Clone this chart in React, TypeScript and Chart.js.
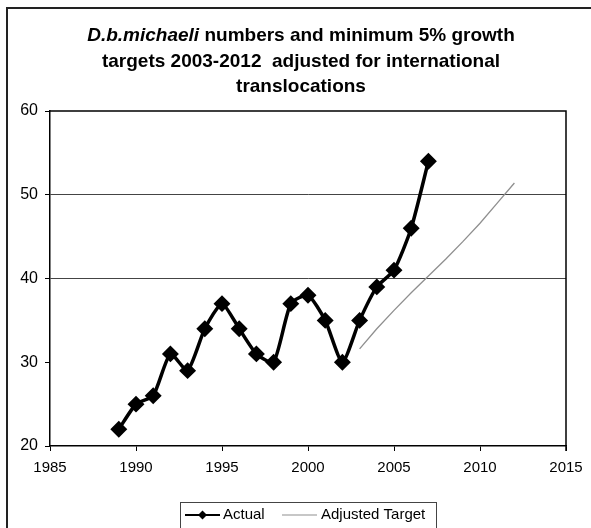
import React, { useEffect, useRef } from 'react';
import { Chart, registerables } from 'chart.js';

Chart.register(...registerables);

const FONT = '"Liberation Sans", Arial, Helvetica, sans-serif';

// ---- data ----
const years = [1989, 1990, 1991, 1992, 1993, 1994, 1995, 1996, 1997, 1998, 1999, 2000, 2001, 2002, 2003, 2004, 2005, 2006, 2007];
const actual = [22, 25, 26, 31, 29, 34, 37, 34, 31, 30, 37, 38, 35, 30, 35, 39, 41, 46, 54];
const targetYears = [2003, 2004, 2005, 2006, 2007, 2008, 2009, 2010, 2011, 2012];
const target = [31.6, 34.0, 36.2, 38.3, 40.3, 42.3, 44.4, 46.6, 49.0, 51.4];
const xTicks = [1985, 1990, 1995, 2000, 2005, 2010, 2015];
const yTicks = [20, 30, 40, 50, 60];
const gridValues = [40, 50];
const seriesNames = ['Actual', 'Adjusted Target'];
const titleItalic = 'D.b.michaeli';
const titleLine1 = ' numbers and minimum 5% growth';
const titleLine2 = 'targets 2003-2012  adjusted for international';
const titleLine3 = 'translocations';

const framePlugin = {
  id: 'frame',
  beforeDraw(chart: any) {
    const ctx = chart.ctx;
    ctx.save();
    ctx.fillStyle = '#fff';
    ctx.fillRect(0, 0, chart.width, chart.height);
    // outer chart border (left + top)
    ctx.lineWidth = 2;
    ctx.strokeStyle = '#222';
    ctx.beginPath();
    ctx.moveTo(7, 528);
    ctx.lineTo(7, 8);
    ctx.lineTo(591, 8);
    ctx.stroke();
    ctx.restore();
  },
  afterDatasetsDraw(chart: any) {
    const { ctx, chartArea } = chart;
    ctx.save();
    ctx.strokeStyle = '#000';
    ctx.lineWidth = 1.5;
    ctx.beginPath();
    ctx.moveTo(chartArea.left, chartArea.top);
    ctx.lineTo(chartArea.right, chartArea.top);
    ctx.lineTo(chartArea.right, chartArea.bottom + 5);
    ctx.stroke();
    ctx.restore();
  },
  afterDraw(chart: any) {
    const ctx = chart.ctx;
    ctx.save();
    ctx.fillStyle = '#000';
    ctx.textBaseline = 'alphabetic';
    const cx = 301;
    const fi = 'italic bold 19px ' + FONT;
    const fb = 'bold 19px ' + FONT;
    ctx.font = fi;
    const w1 = ctx.measureText(titleItalic).width;
    ctx.font = fb;
    const w2 = ctx.measureText(titleLine1).width;
    const x0 = cx - (w1 + w2) / 2;
    ctx.textAlign = 'left';
    ctx.font = fi;
    ctx.fillText(titleItalic, x0, 41);
    ctx.font = fb;
    ctx.fillText(titleLine1, x0 + w1, 41);
    ctx.textAlign = 'center';
    ctx.fillText(titleLine2, cx, 66.7);
    ctx.fillText(titleLine3, cx, 92.3);

    // legend box
    ctx.strokeStyle = '#444';
    ctx.lineWidth = 1;
    ctx.strokeRect(180.5, 502.5, 256, 40);
    const sampleX = [185, 282];
    const textX = [223, 321];
    const ly = 515;
    chart.data.datasets.forEach((ds: any, i: number) => {
      ctx.strokeStyle = ds.borderColor;
      ctx.lineWidth = i === 0 ? 2 : 1.2;
      ctx.beginPath();
      ctx.moveTo(sampleX[i], ly);
      ctx.lineTo(sampleX[i] + 35, ly);
      ctx.stroke();
      if (ds.pointRadius > 0) {
        const mx = sampleX[i] + 17.5;
        const r = 4.5;
        ctx.fillStyle = ds.pointBackgroundColor;
        ctx.beginPath();
        ctx.moveTo(mx, ly - r);
        ctx.lineTo(mx + r, ly);
        ctx.lineTo(mx, ly + r);
        ctx.lineTo(mx - r, ly);
        ctx.closePath();
        ctx.fill();
      }
      ctx.fillStyle = '#000';
      ctx.font = '15px ' + FONT;
      ctx.textAlign = 'left';
      ctx.textBaseline = 'middle';
      ctx.fillText(ds.label, textX[i], ly);
    });
    ctx.restore();
  },
};

export default function App() {
  const ref = useRef<HTMLCanvasElement | null>(null);
  useEffect(() => {
    if (!ref.current) return;
    const chart = new Chart(ref.current, {
      type: 'line',
      data: {
        datasets: [
          {
            label: seriesNames[0],
            data: years.map((x, i) => ({ x, y: actual[i] })),
            borderColor: '#000',
            borderWidth: 3.5,
            pointStyle: 'rectRot',
            pointRadius: 6,
            pointBackgroundColor: '#000',
            pointBorderColor: '#000',
            tension: 0.2,
          },
          {
            label: seriesNames[1],
            data: targetYears.map((x, i) => ({ x, y: target[i] })),
            borderColor: '#8f8f8f',
            borderWidth: 1.3,
            pointRadius: 0,
            tension: 0,
          },
        ],
      },
      options: {
        animation: false,
        responsive: false,
        layout: { padding: { top: 111, left: 0, right: 25, bottom: 0 } },
        plugins: { legend: { display: false }, title: { display: false }, tooltip: { enabled: false } },
        scales: {
          x: {
            type: 'linear',
            min: 1985,
            max: 2015,
            afterBuildTicks: (s: any) => { s.ticks = xTicks.map((v) => ({ value: v })); },
            afterFit: (s: any) => { s.height = 82; },
            ticks: {
              callback: (v: any) => String(v),
              font: { size: 15, family: FONT },
              color: '#000',
              padding: 8,
              maxRotation: 0,
              autoSkip: false,
            },
            grid: { drawOnChartArea: false, drawTicks: true, tickLength: 5, color: '#000', lineWidth: 1 },
            border: { color: '#000', width: 1.5 },
          },
          y: {
            type: 'linear',
            min: 20,
            max: 60,
            afterBuildTicks: (s: any) => { s.ticks = yTicks.map((v) => ({ value: v })); },
            afterFit: (s: any) => { s.width = 50; },
            ticks: {
              callback: (v: any) => String(v),
              font: { size: 16, family: FONT },
              color: '#000',
              padding: 7,
            },
            grid: {
              color: (c: any) => (c.tick && gridValues.includes(c.tick.value) ? '#444' : 'rgba(0,0,0,0)'),
              tickColor: '#000',
              tickLength: 5,
              lineWidth: 1,
            },
            border: { color: '#000', width: 1.5 },
          },
        },
      },
      plugins: [framePlugin],
    });
    return () => chart.destroy();
  }, []);
  return (
    <div style={{ position: 'fixed', left: 0, top: 0, width: 591, height: 528, background: '#fff' }}>
      <canvas ref={ref} width={591} height={528} style={{ width: 591, height: 528, display: 'block' }} />
    </div>
  );
}
